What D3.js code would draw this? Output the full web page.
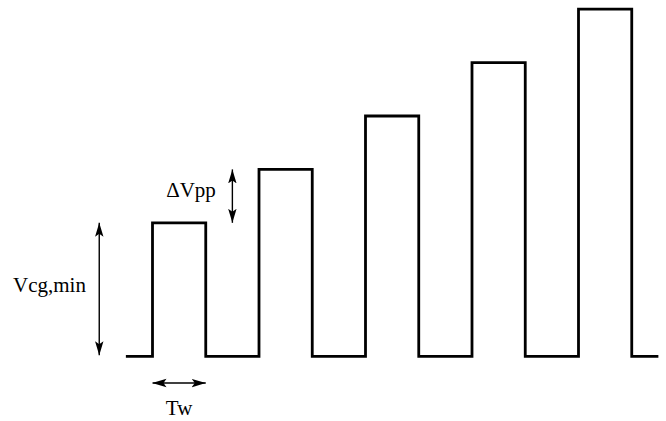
<!DOCTYPE html>
<html>
<head>
<meta charset="utf-8">
<script src="https://cdn.jsdelivr.net/npm/d3@7"></script>
<style>
  html, body { margin: 0; padding: 0; background: #fff; }
  svg { display: block; }
</style>
</head>
<body>
<svg id="chart" width="666" height="421"></svg>
<script>
// ---- data (time in units of Tw, voltage in units of ΔVpp) ----
const pulseStarts = [0, 2, 4, 6, 8];          // pulse start times
const pulseWidth = 1;                          // Tw
const pulseLevels = [2.5, 3.5, 4.5, 5.5, 6.5]; // pulse amplitude (Vcg,min + k·ΔVpp)
const baseLevel = 0;
const timeRange = [-0.5, 9.5];
const labels = { vcg: "Vcg,min", dvpp: "\u0394Vpp", tw: "Tw" };

// ---- scales ----
const x = d3.scaleLinear().domain([0, 1]).range([152.5, 205.75]);
const y = d3.scaleLinear().domain([0, 1]).range([356.3, 302.9]);

const svg = d3.select("#chart");

// build waveform points
const pts = [[timeRange[0], baseLevel]];
pulseStarts.forEach((t0, i) => {
  pts.push([t0, baseLevel], [t0, pulseLevels[i]], [t0 + pulseWidth, pulseLevels[i]], [t0 + pulseWidth, baseLevel]);
});
pts.push([timeRange[1], baseLevel]);

const line = d3.line().x(d => x(d[0])).y(d => y(d[1]));
svg.append("path")
  .attr("d", line(pts))
  .attr("fill", "none")
  .attr("stroke", "#000")
  .attr("stroke-width", 2.8)
  .attr("stroke-linejoin", "miter")
  .attr("stroke-linecap", "butt");

// arrowhead marker
const defs = svg.append("defs");
["start", "end"].forEach(k => {
  defs.append("marker")
    .attr("id", "ah-" + k)
    .attr("viewBox", "0 -5 14 10")
    .attr("refX", 14).attr("refY", 0)
    .attr("markerUnits", "userSpaceOnUse")
    .attr("markerWidth", 14).attr("markerHeight", 10)
    .attr("orient", k === "start" ? "auto-start-reverse" : "auto")
    .append("path")
    .attr("d", "M0,-4.2 L14,0 L0,4.2 L3,0 Z")
    .attr("fill", "#000");
});

function arrow(x1, y1, x2, y2) {
  svg.append("line")
    .attr("x1", x1).attr("y1", y1).attr("x2", x2).attr("y2", y2)
    .attr("stroke", "#000").attr("stroke-width", 1.4)
    .attr("marker-start", "url(#ah-start)")
    .attr("marker-end", "url(#ah-end)");
}

// Vcg,min arrow (baseline to first pulse level)
arrow(x(-1), y(pulseLevels[0]), x(-1), y(baseLevel) - 1);
// ΔVpp arrow (first to second pulse level)
arrow(x(1.5), y(pulseLevels[1]), x(1.5), y(pulseLevels[0]));
// Tw arrow
arrow(x(pulseStarts[0]), y(-0.5), x(pulseStarts[0] + pulseWidth), y(-0.5));

const font = "'Liberation Serif', 'Times New Roman', serif";
svg.append("text").attr("x", 49.5).attr("y", 292)
  .attr("text-anchor", "middle").attr("font-family", font).attr("font-size", 21)
  .text(labels.vcg);
svg.append("text").attr("x", 191).attr("y", 197)
  .attr("text-anchor", "middle").attr("font-family", font).attr("font-size", 21)
  .text(labels.dvpp);
svg.append("text").attr("x", x(pulseStarts[0] + pulseWidth / 2)).attr("y", 415)
  .attr("text-anchor", "middle").attr("font-family", font).attr("font-size", 21)
  .text(labels.tw);
</script>
</body>
</html>
